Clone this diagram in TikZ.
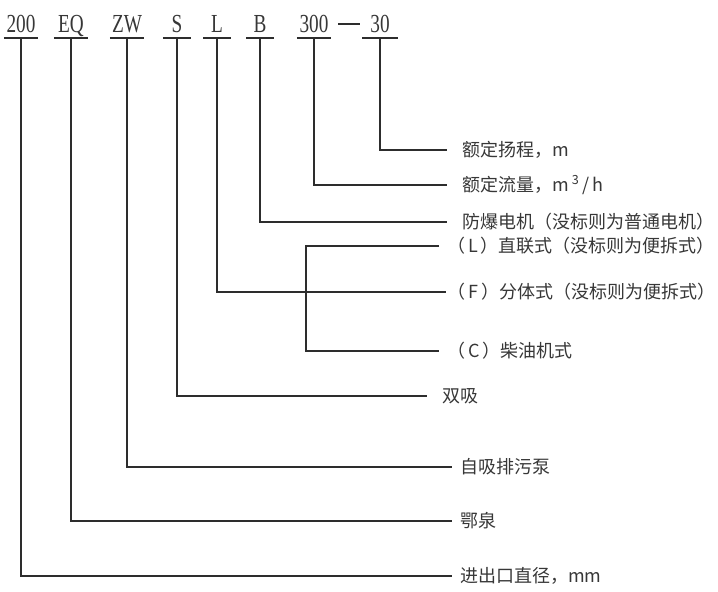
\documentclass[tikz,border=0pt]{standalone}
\usepackage{fontspec}
\usepackage{tikz}
\usetikzlibrary{positioning}
\newfontfamily\cjk{Noto Sans CJK SC}
\newfontfamily\codefont[FakeStretch=0.74]{Liberation Serif}
\definecolor{lnCol}{RGB}{45,45,45}
\definecolor{txCol}{RGB}{55,55,55}

\begin{document}
\begin{tikzpicture}[x=1pt,y=-1pt,
  code/.style={anchor=south,inner xsep=0pt,inner ysep=5pt,text depth=0pt,font=\codefont\fontsize{26}{28}\selectfont,text=txCol},
  desc/.style={anchor=west,inner sep=0pt,font=\cjk\fontsize{18}{20}\selectfont,text=txCol},
  ul/.style={lnCol,line width=1.1pt},
  lead/.style={lnCol,line width=1.1pt}]
\useasboundingbox (0,0) rectangle (718,592);

% model code
\node[code,minimum width=34pt] (c200) at (21,38)  {200};
\node[code,minimum width=34pt] (cEQ)  at (71,38)  {EQ};
\node[code,minimum width=34pt] (cZW)  at (127,38) {ZW};
\node[code,minimum width=28pt] (cS)   at (177,38) {S};
\node[code,minimum width=27pt] (cL)   at (217,38) {L};
\node[code,minimum width=27pt] (cB)   at (260,38) {B};
\node[code,minimum width=34pt] (c300) at (314,38) {300};
\node[code,minimum width=35pt] (c30)  at (380,38) {30};
\coordinate (dashL) at (338,24);
\coordinate (dashR) at (360,24);

\foreach \n in {c200,cEQ,cZW,cS,cL,cB,c300,c30}
  \draw[ul] (\n.south west) -- (\n.south east);
\draw[ul] (dashL) -- (dashR);

% meanings
\node[desc] (t30)  at (462,150) {额定扬程，m};
\node[desc] (t300) at (462,185) {额定流量，m\,\textsuperscript{3}\,/\,h};
\node[desc] (tB)   at (462,222) {防爆电机（没标则为普通电机）};
\node[desc] (tLl)  at (447,246) {（\,L\,）直联式（没标则为便拆式）};
\node[desc] (tLf)  at (447,292) {（\,F\,）分体式（没标则为便拆式）};
\node[desc] (tLc)  at (447,351) {（\,C\,）柴油机式};
\node[desc] (tS)   at (442,396) {双吸};
\node[desc] (tZW)  at (460,467) {自吸排污泵};
\node[desc] (tEQ)  at (460,521) {鄂泉};
\node[desc] (t200) at (460,576) {进出口直径，mm};

\draw[lead] (c30.south)  |- ([xshift=-15pt]t30.west);
\draw[lead] (c300.south) |- ([xshift=-15pt]t300.west);
\draw[lead] (cB.south)   |- ([xshift=-15pt]tB.west);
\draw[lead] (cL.south)   |- ([xshift=-1pt]tLf.west);
\coordinate (brk) at (306,292);
\draw[lead] ([xshift=-8pt]tLl.west) -| (brk) |- ([xshift=-8pt]tLc.west);
\draw[lead] (cS.south)   |- ([xshift=-15pt]tS.west);
\draw[lead] (cZW.south)  |- ([xshift=-8pt]tZW.west);
\draw[lead] (cEQ.south)  |- ([xshift=-8pt]tEQ.west);
\draw[lead] (c200.south) |- ([xshift=-8pt]t200.west);
\end{tikzpicture}
\end{document}
